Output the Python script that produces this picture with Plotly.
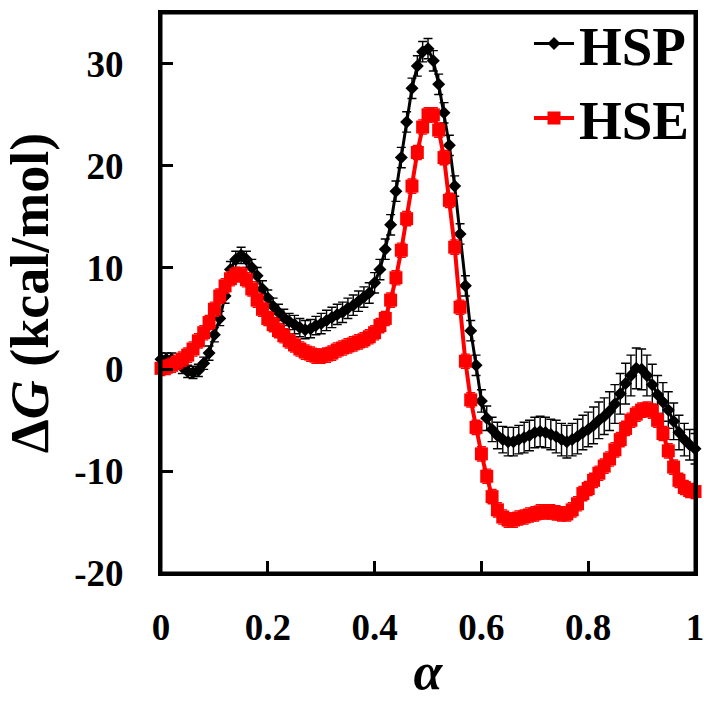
import plotly.graph_objects as go

alpha = [round(i * 0.01, 2) for i in range(101)]

hsp = [
    1.0, 1.0, 1.0, 0.6, 0.2, -0.2, -0.3, -0.1, 0.6, 1.6,
    3.4, 5.0, 7.2, 9.8, 10.8, 11.2, 10.8, 10.0, 9.2, 7.9,
    7.0, 6.2, 5.6, 5.1, 4.7, 4.4, 4.1, 3.9, 4.0, 4.3,
    4.5, 4.8, 5.1, 5.4, 5.6, 6.0, 6.3, 6.7, 7.1, 7.5,
    8.5, 9.8, 11.8, 14.2, 17.5, 20.8, 24.3, 27.6, 29.8, 31.2,
    31.5, 30.3, 28.0, 25.2, 22.0, 18.0, 13.3, 8.2, 3.8, 0.4,
    -3.1, -4.8, -5.9, -6.5, -6.9, -7.1, -7.1, -6.9, -6.7, -6.5,
    -6.2, -6.1, -6.2, -6.4, -6.6, -6.9, -7.1, -6.9, -6.6, -6.2,
    -5.9, -5.5, -5.0, -4.6, -4.1, -3.4, -2.4, -1.4, -0.6, 0.1,
    0.0, -0.6, -1.5, -2.5, -3.2, -4.0, -5.1, -6.2, -6.9, -7.4,
    -7.8,
]

hsp_err = [
    0.6, 0.6, 0.6, 0.6, 0.6, 0.6, 0.6, 0.6, 0.6, 0.7,
    0.7, 0.7, 0.7, 0.8, 0.8, 0.8, 0.8, 0.8, 0.8, 0.8,
    0.8, 0.8, 0.8, 0.8, 0.8, 0.9, 0.9, 0.9, 0.9, 0.9,
    1.0, 1.0, 1.0, 1.0, 1.0, 1.0, 1.0, 1.0, 1.0, 1.0,
    1.0, 1.0, 1.0, 1.0, 1.0, 1.0, 1.0, 1.0, 1.0, 1.0,
    1.0, 1.0, 1.0, 1.0, 1.0, 1.0, 1.0, 1.0, 1.0, 1.0,
    1.1, 1.2, 1.2, 1.3, 1.3, 1.4, 1.4, 1.4, 1.5, 1.5,
    1.5, 1.5, 1.5, 1.5, 1.6, 1.6, 1.6, 1.6, 1.7, 1.7,
    1.7, 1.8, 1.8, 1.8, 1.9, 1.9, 2.0, 2.0, 2.0, 2.0,
    2.0, 2.0, 2.0, 1.9, 1.9, 1.8, 1.8, 1.7, 1.6, 1.5,
    1.5,
]

hse = [
    0.1, 0.2, 0.4, 0.7, 1.0, 1.4, 2.0, 2.8, 3.6, 4.6,
    5.9, 7.2, 8.2, 8.9, 9.3, 9.3, 8.8, 7.9, 6.8, 5.9,
    5.0, 4.4, 3.8, 3.3, 2.8, 2.4, 2.0, 1.7, 1.5, 1.3,
    1.3, 1.4, 1.6, 1.9, 2.1, 2.3, 2.5, 2.7, 2.9, 3.2,
    3.6, 4.3, 5.0, 6.8, 9.0, 11.7, 14.8, 18.0, 21.3, 23.8,
    25.0, 25.0, 23.5, 20.8, 16.6, 12.0, 6.1, 0.8, -3.0, -5.7,
    -8.3, -10.5, -12.5, -13.8, -14.5, -14.8, -14.8, -14.6, -14.5, -14.3,
    -14.2, -14.0, -14.0, -14.0, -14.1, -14.2, -14.2, -13.8, -13.2, -12.2,
    -11.7, -10.9, -10.2, -9.5, -8.8, -7.9, -6.9, -5.8, -5.0, -4.4,
    -4.0, -3.9, -4.1, -5.0, -6.3, -8.0, -9.6, -10.9, -11.6, -11.9,
    -12.0,
]

hse_err = [0.7] * 101

x_tickvals = [0, 0.2, 0.4, 0.6, 0.8, 1]
x_ticktext = ["0", "0.2", "0.4", "0.6", "0.8", "1"]
y_tickvals = [-20, -10, 0, 10, 20, 30]
y_ticktext = ["-20", "-10", "0", "10", "20", "30"]

FONT = "Times New Roman, Liberation Serif, Times, serif"

fig = go.Figure()
fig.add_trace(go.Scatter(
    x=alpha, y=hsp, name="HSP", mode="lines+markers",
    line=dict(color="black", width=3),
    marker=dict(symbol="diamond", size=10, color="black"),
    error_y=dict(type="data", array=hsp_err, visible=True,
                 color="black", thickness=1.4, width=4.5),
    cliponaxis=False,
))
fig.add_trace(go.Scatter(
    x=alpha, y=hse, name="HSE", mode="lines+markers",
    line=dict(color="#ff0000", width=4),
    marker=dict(symbol="square", size=13, color="#ff0000"),
    error_y=dict(type="data", array=hse_err, visible=True,
                 color="#ff0000", thickness=1.4, width=4.5),
    cliponaxis=False,
))

axis_common = dict(
    showline=True, linecolor="black", linewidth=3, mirror=True,
    ticks="inside", ticklen=12, tickwidth=3, tickcolor="black",
    showgrid=False, zeroline=False, automargin=False,
    ticklabeloverflow="allow",
    tickfont=dict(family=FONT, size=37, color="black", weight="bold"),
)

fig.update_xaxes(
    range=[0, 1], tickvals=x_tickvals, ticktext=x_ticktext,
    ticklabelstandoff=20,
    title=dict(text="<i>α</i>", font=dict(family=FONT, size=52, color="black", weight="bold"),
               standoff=6),
    **axis_common,
)
fig.update_yaxes(
    range=[-20, 35], tickvals=y_tickvals, ticktext=y_ticktext,
    ticklabelstandoff=27,
    title=dict(text="Δ<i>G</i> (kcal/mol)", font=dict(family=FONT, size=54, color="black", weight="bold"),
               standoff=12),
    **axis_common,
)

# plot frame (box around the plotting area)
fig.add_shape(type="rect", xref="paper", yref="paper", x0=0, x1=1, y0=0, y1=1,
              line=dict(color="black", width=3), layer="above")

fig.update_layout(
    width=704, height=707,
    margin=dict(l=161, r=9, t=13, b=134, autoexpand=False),
    plot_bgcolor="white", paper_bgcolor="white",
    showlegend=True,
    legend=dict(x=1.0, y=1.021, xanchor="right", yanchor="top",
                bgcolor="rgba(0,0,0,0)",
                font=dict(family=FONT, size=55, color="black", weight="bold"),
                itemwidth=40, tracegroupgap=0),
)

fig.write_html(
    "out.html",
    config={"displayModeBar": False},
    post_script="document.body.style.margin='0px';document.body.style.overflow='hidden';",
)
